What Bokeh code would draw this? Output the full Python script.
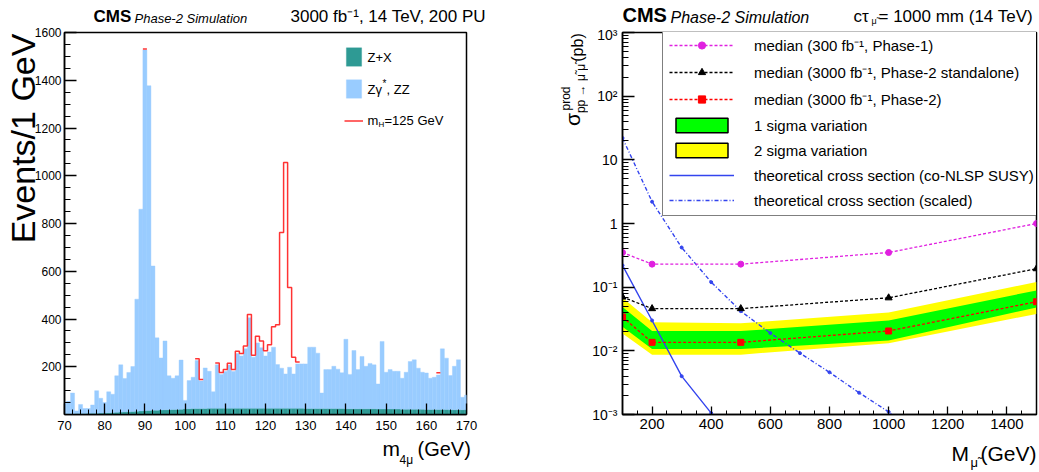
import math
from bokeh.plotting import figure
from bokeh.layouts import row, column
from bokeh.models import Label, Range1d, FixedTicker, Legend, LegendItem
from bokeh.embed import file_html
from bokeh.resources import INLINE

# ---------------- left panel data (4-muon invariant mass, 1 GeV bins) ----------------
mass_bins = list(range(70, 171))
bkg_total = [50, 55, 90, 15, 42, 25, 25, 40, 100, 68,
             50, 95, 85, 162, 208, 151, 176, 201, 483, 860,
             1527, 1377, 622, 321, 237, 308, 162, 152, 162, 228,
             59, 142, 156, 226, 140, 195, 181, 95, 208, 168,
             180, 207, 180, 255, 245, 275, 405, 240, 300, 280,
             245, 262, 282, 209, 194, 170, 198, 170, 212, 212,
             212, 282, 282, 257, 90, 188, 188, 202, 190, 175,
             315, 168, 268, 188, 243, 202, 214, 208, 128, 306,
             177, 188, 181, 181, 152, 177, 222, 229, 194, 177,
             174, 152, 156, 165, 275, 236, 163, 202, 229, 72, 81]
zx_values = [3, 3, 3, 4, 4, 4, 5, 5, 5, 6,
             6, 7, 8, 9, 10, 11, 12, 13, 14, 15,
             16, 17, 18, 18, 19, 20, 20, 21, 21, 22,
             24, 24, 25, 25, 25, 25, 26, 26, 26, 26,
             26, 26, 26, 26, 26, 26, 26, 26, 26, 26,
             26, 26, 26, 26, 26, 26, 26, 26, 26, 26,
             25, 25, 25, 25, 25, 25, 25, 25, 25, 25,
             24, 24, 24, 24, 24, 24, 24, 24, 23, 23,
             23, 23, 23, 23, 22, 22, 22, 22, 22, 22,
             21, 21, 21, 21, 21, 21, 20, 20, 20, 20, 20]
signal_mass = [90, 103, 104, 108, 109, 110, 111, 112, 113, 114, 115, 116, 117,
               118, 119, 120, 121, 122, 123, 124, 125, 126, 127, 128, 163]
signal_counts = [4, 8, 7, 8, 8, 8, 8, 8, 10, 10, 12, 14, 8,
                 28, 28, 22, 30, 86, 167, 568, 885, 334, 70, 8, 10]

# ---------------- right panel data (limits vs smuon mass) ----------------
smu_mass = [100, 200, 500, 1000, 1500]
median_phase1 = [0.35, 0.23, 0.23, 0.35, 1.0]
median_phase2_sa = [0.070, 0.046, 0.046, 0.068, 0.195]
median_phase2 = [0.034, 0.0136, 0.0136, 0.0205, 0.059]
sigma1_lo = [0.024, 0.0107, 0.0107, 0.0145, 0.048]
sigma1_hi = [0.049, 0.0204, 0.0204, 0.030, 0.089]
sigma2_lo = [0.0188, 0.0087, 0.0087, 0.0132, 0.038]
sigma2_hi = [0.068, 0.028, 0.027, 0.040, 0.121]
theory_mass = [100, 200, 300, 400, 500]
theory_xsec = [0.22, 0.030, 0.0040, 0.00105, 0.0003]
scaled_mass = [100, 200, 300, 400, 500, 600, 700, 800, 900, 1000, 1100]
scaled_xsec = [22, 2.2, 0.42, 0.12, 0.042, 0.019, 0.0092, 0.0046, 0.0022, 0.0011, 0.0005]

SANS = "Liberation Sans"
PI2 = math.pi / 2
NBSP = "\u00a0"


def put(p, fl, fb, cx, cy, text, size, style="normal", align="left", angle=0.0):
    """Label centred vertically (in its own text frame) on page pixel (cx, cy);
    fl/fb = page x of the frame's left edge and page y of its bottom edge."""
    p.add_layout(Label(x=cx - fl, y=fb - cy, x_units="screen", y_units="screen",
                       text=text, text_font=SANS, text_font_size=f"{size}px",
                       text_font_style=style, text_align=align,
                       text_baseline="middle", angle=angle, text_color="black"))


def strip(w, h):
    f = figure(width=w, height=h, x_range=Range1d(0, w), y_range=Range1d(0, h),
               x_axis_location=None, y_axis_location=None, toolbar_location=None,
               output_backend="svg", min_border=0, min_border_left=0,
               min_border_right=0, min_border_top=0, min_border_bottom=0)
    f.grid.visible = False
    f.outline_line_color = None
    f.background_fill_color = "white"
    f.border_fill_color = "white"
    return f


def style_axis(ax, size, tin, tmin, standoff):
    ax.major_tick_in = tin
    ax.major_tick_out = 0
    ax.minor_tick_in = tmin
    ax.minor_tick_out = 0
    ax.axis_line_color = "black"
    ax.axis_line_width = 1.5
    ax.major_tick_line_color = "black"
    ax.major_tick_line_width = 1.3
    ax.minor_tick_line_color = "black"
    ax.minor_tick_line_width = 1.0
    ax.major_label_text_font = SANS
    ax.major_label_text_font_size = f"{size}px"
    ax.major_label_text_color = "black"
    ax.major_label_standoff = standoff


def frame_fig(w, h, xr, yr, bl, br, bt, bb, **kw):
    p = figure(width=w, height=h, x_range=xr, y_range=yr, output_backend="svg",
               toolbar_location=None, min_border_left=bl, min_border_right=br,
               min_border_top=bt, min_border_bottom=bb, **kw)
    p.xgrid.visible = False
    p.ygrid.visible = False
    p.outline_line_color = "black"
    p.outline_line_width = 1.5
    p.background_fill_color = "white"
    p.border_fill_color = "white"
    return p


TOP_H, MID_H, BOT_H = 26, 410, 36
FRAME_TOP, FRAME_BOTTOM = 32, 414          # page y of the (row-aligned) plot frames
B_TOP = FRAME_TOP - TOP_H                   # 6
B_BOT = TOP_H + MID_H - FRAME_BOTTOM        # 22

# ======================= LEFT FIGURE =======================
L_FL = 63
p1 = frame_fig(520, MID_H, Range1d(70, 170), Range1d(0, 1600), 63, 54, B_TOP, B_BOT)

lefts = [m - 0.5 for m in mass_bins]
rights = [m + 0.5 for m in mass_bins]
TEAL = "#2E9A94"
LBLUE = "#99CCFF"
r_zx = p1.quad(left=lefts, right=rights, bottom=[0] * len(mass_bins), top=zx_values,
               fill_color=TEAL, line_color=TEAL, line_width=0.4)
r_zz = p1.quad(left=lefts, right=rights, bottom=zx_values, top=bkg_total,
               fill_color=LBLUE, line_color=LBLUE, line_width=0.4)

sig = dict(zip(signal_mass, signal_counts))
runs_x, runs_y, cx, cy = [], [], [], []
for m, b in zip(mass_bins, bkg_total):
    s = sig.get(m, 0)
    if s > 0:
        cx += [m - 0.5, m + 0.5]
        cy += [b + s, b + s]
    elif cx:
        runs_x.append(cx); runs_y.append(cy); cx, cy = [], []
if cx:
    runs_x.append(cx); runs_y.append(cy)
RED = "#FF3333"
r_h = p1.multi_line(runs_x, runs_y, line_color=RED, line_width=1.5)

p1.xaxis.ticker = FixedTicker(ticks=list(range(70, 171, 10)), minor_ticks=list(range(70, 171, 2)))
p1.yaxis.ticker = FixedTicker(ticks=list(range(200, 1601, 200)), minor_ticks=list(range(0, 1601, 50)))
style_axis(p1.xaxis[0], 13, 11, 5, 6)
style_axis(p1.yaxis[0], 12, 12, 6, 3)

# y-axis title: centred by Bokeh, moved toward the top end with leading no-break spaces
yax = p1.yaxis[0]
yax.axis_label = NBSP * 18 + "Events/1 GeV"
yax.axis_label_text_font = SANS
yax.axis_label_text_font_size = "34px"
yax.axis_label_text_font_style = "normal"
yax.axis_label_text_color = "black"
yax.axis_label_standoff = -10

leg1 = Legend(items=[LegendItem(label=" ", renderers=[r_zx]),
                     LegendItem(label=" ", renderers=[r_zz]),
                     LegendItem(label=" ", renderers=[r_h])],
              location=(343 - L_FL, FRAME_BOTTOM - 132), glyph_width=19, glyph_height=23,
              spacing=9, padding=0, margin=0, label_standoff=2, label_height=20,
              border_line_color=None, background_fill_alpha=0.0,
              label_text_font_size="12px")
p1.add_layout(leg1)
put(p1, L_FL, FRAME_BOTTOM, 366, 57, "Z+X", 13)
put(p1, L_FL, FRAME_BOTTOM, 366, 89, "Zγ", 13)
put(p1, L_FL, FRAME_BOTTOM, 381, 83, "*", 10)
put(p1, L_FL, FRAME_BOTTOM, 385, 89, ", ZZ", 13)
put(p1, L_FL, FRAME_BOTTOM, 366, 120, "m", 13)
put(p1, L_FL, FRAME_BOTTOM, 377, 124, "H", 8)
put(p1, L_FL, FRAME_BOTTOM, 383, 120, "=125 GeV", 13)

# ======================= RIGHT FIGURE =======================
YR_W = 68
R_FL = 622
p2 = frame_fig(1039 - 520 - YR_W, MID_H, Range1d(100, 1500), Range1d(1e-3, 1e3),
               R_FL - (520 + YR_W), 3, B_TOP, B_BOT, y_axis_type="log")

YELLOW = "#FFFF00"
GREEN = "#00FF00"
BLUE = "#3344EE"
MAG = "#E020E0"
p2.varea(x=smu_mass, y1=sigma2_lo, y2=sigma2_hi, fill_color=YELLOW)
p2.varea(x=smu_mass, y1=sigma1_lo, y2=sigma1_hi, fill_color=GREEN)

r_th = p2.line(theory_mass, theory_xsec, line_color=BLUE, line_width=1.4)
p2.scatter(theory_mass, theory_xsec, size=3, color=BLUE)
r_sc = p2.line(scaled_mass, scaled_xsec, line_color=BLUE, line_width=1.4, line_dash="4 2 1 2")
p2.scatter(scaled_mass, scaled_xsec, size=3, color=BLUE)

r_m1 = p2.line(smu_mass, median_phase1, line_color=MAG, line_width=1.3, line_dash="3 2")
s_m1 = p2.scatter(smu_mass, median_phase1, marker="circle", size=6, color=MAG)
r_m2 = p2.line(smu_mass, median_phase2_sa, line_color="black", line_width=1.3, line_dash="3 2")
s_m2 = p2.scatter(smu_mass, median_phase2_sa, marker="triangle", size=7, color="black")
r_m3 = p2.line(smu_mass, median_phase2, line_color="red", line_width=1.3, line_dash="3 2")
s_m3 = p2.scatter(smu_mass, median_phase2, marker="square", size=6, color="red")

# zero-size legend proxies (black-bordered boxes for the sigma bands)
g_proxy = p2.quad(left=smu_mass[:1], right=smu_mass[:1], top=sigma1_lo[:1], bottom=sigma1_lo[:1],
                  fill_color=GREEN, line_color="black", line_width=1.5)
y_proxy = p2.quad(left=smu_mass[:1], right=smu_mass[:1], top=sigma2_lo[:1], bottom=sigma2_lo[:1],
                  fill_color=YELLOW, line_color="black", line_width=1.5)

leg2 = Legend(items=[
    LegendItem(label="median (300 fb⁻¹, Phase-1)", renderers=[r_m1, s_m1]),
    LegendItem(label="median (3000 fb⁻¹, Phase-2 standalone)", renderers=[r_m2, s_m2]),
    LegendItem(label="median (3000 fb⁻¹, Phase-2)", renderers=[r_m3, s_m3]),
    LegendItem(label="1 sigma variation", renderers=[g_proxy]),
    LegendItem(label="2 sigma variation", renderers=[y_proxy]),
    LegendItem(label="theoretical cross section (co-NLSP SUSY)", renderers=[r_th]),
    LegendItem(label="theoretical cross section (scaled)", renderers=[r_sc]),
], location=(662 - R_FL, 198), glyph_width=65, glyph_height=18, spacing=7,
    padding=6, margin=0, label_standoff=20, label_height=18,
    border_line_color="black", border_line_width=1.5, background_fill_color="white",
    background_fill_alpha=1.0, label_text_font=SANS, label_text_font_size="15px",
    label_text_color="black")
p2.add_layout(leg2)

p2.xaxis.ticker = FixedTicker(ticks=list(range(200, 1401, 200)), minor_ticks=list(range(100, 1501, 50)))
log_major = [10.0 ** e for e in range(-3, 4)]
log_minor = [k * 10.0 ** e for e in range(-3, 3) for k in range(2, 10)]
p2.yaxis.ticker = FixedTicker(ticks=log_major, minor_ticks=log_minor)
p2.yaxis.major_label_overrides = {1000.0: "10³", 100.0: "10²", 10.0: "10", 1.0: "1",
                                  0.1: "10⁻¹", 0.01: "10⁻²", 0.001: "10⁻³"}
style_axis(p2.xaxis[0], 15, 8, 4, 4)
style_axis(p2.yaxis[0], 14, 12, 6, 5)

# ======================= TEXT STRIPS =======================
tl = strip(520, TOP_H)
put(tl, 0, TOP_H, 93, 16.3, "CMS", 17, "bold")
put(tl, 0, TOP_H, 134, 18, "Phase-2 Simulation", 13, "italic")
put(tl, 0, TOP_H, 290, 16.3, "3000 fb⁻¹, 14 TeV, 200 PU", 17)

tr = strip(519, TOP_H)
put(tr, 520, TOP_H, 622, 14.8, "CMS", 20, "bold")
put(tr, 520, TOP_H, 670, 17, "Phase-2 Simulation", 16, "italic")
put(tr, 520, TOP_H, 853, 16.3, "cτ", 17)
put(tr, 520, TOP_H, 871, 20.5, "μ̃", 9)
put(tr, 520, TOP_H, 878, 16.3, " = 1000 mm (14 TeV)", 17)

# right y-axis title pieces (rotated, centre-anchored); the strip's frame is row-aligned
yr = strip(YR_W, MID_H)
put(yr, 520, FRAME_BOTTOM, 572, 119, "σ", 21, align="center", angle=PI2)
put(yr, 520, FRAME_BOTTOM, 565, 98, "prod", 12, align="center", angle=PI2)
put(yr, 520, FRAME_BOTTOM, 580, 88, "pp → μ̃ μ̃", 12, align="center", angle=PI2)
put(yr, 520, FRAME_BOTTOM, 577, 47, "(pb)", 16, align="center", angle=PI2)

bl = strip(520, BOT_H)
put(bl, 0, 472, 382, 448, "m", 21)
put(bl, 0, 472, 399, 459, "4μ", 12)
put(bl, 0, 472, 417, 448, "(GeV)", 20)

br = strip(519, BOT_H)
put(br, 520, 472, 951, 453, "M", 21)
put(br, 520, 472, 970, 462, "μ̃", 13)
put(br, 520, 472, 980, 453, "(GeV)", 21)

layout = column(row(tl, tr), row(p1, yr, p2), row(bl, br))
open("out.html", "w").write(file_html(layout, INLINE))
